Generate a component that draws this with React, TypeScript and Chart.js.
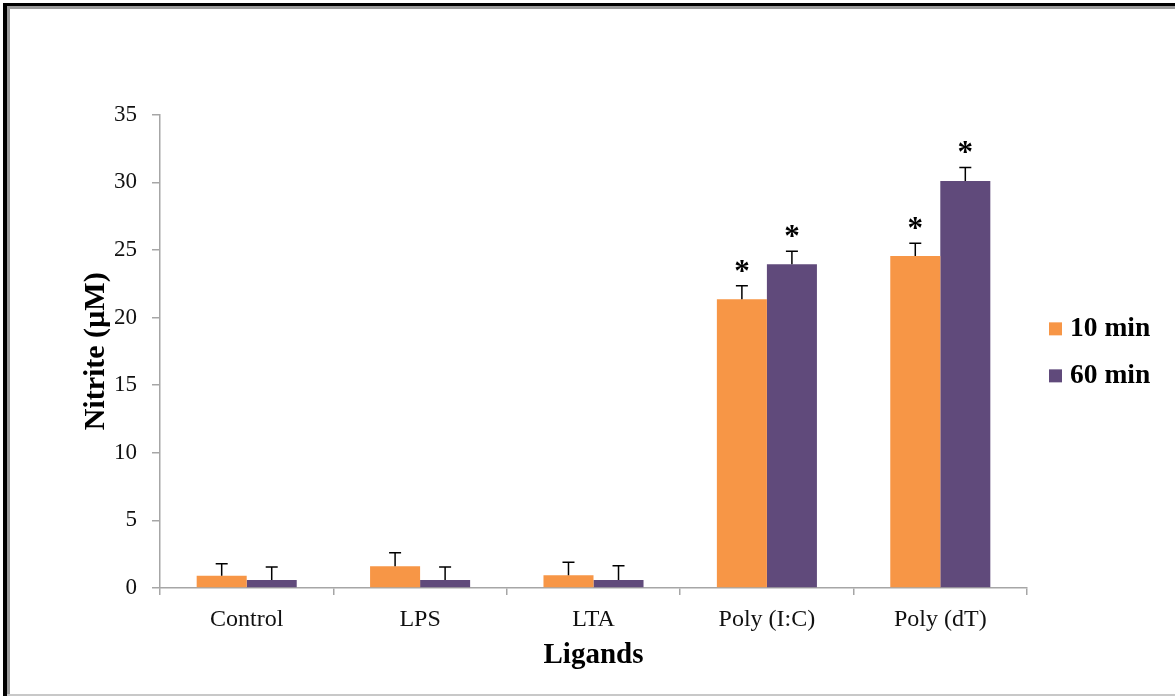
import { useEffect, useRef } from 'react';
import { Chart, registerables } from 'chart.js';

Chart.register(...registerables);

// Nitrite release per ligand, measured at two time points
const categories = ['Control', 'LPS', 'LTA', 'Poly (I:C)', 'Poly (dT)'];
const seriesLabels = ['10 min', '60 min'];
const nitrite10 = [0.9, 1.6, 0.95, 21.35, 24.55];
const nitrite60 = [0.6, 0.6, 0.6, 23.95, 30.1];
const error10 = [0.9, 1.0, 0.95, 1.0, 0.95];
const error60 = [0.95, 0.95, 1.05, 0.95, 1.0];
const significant10 = [false, false, false, true, true];
const significant60 = [false, false, false, true, true];
const yMin = 0;
const yMax = 35;
const yStep = 5;

const SERIF = "'Liberation Serif', 'Times New Roman', serif";
const ORANGE = '#F79646';
const PURPLE = '#604A7B';
const AXIS_GREY = '#a6a6a6';

// Upward error whiskers plus significance asterisks above them
const errorBarPlugin = {
  id: 'errorBars',
  afterDatasetsDraw(chart: any) {
    const { ctx } = chart;
    const yScale = chart.scales.y;
    chart.data.datasets.forEach((ds: any, di: number) => {
      const meta = chart.getDatasetMeta(di);
      meta.data.forEach((bar: any, i: number) => {
        const value = ds.data[i];
        const err = ds.errors[i];
        const x = bar.x;
        const yTop = yScale.getPixelForValue(value + err);
        ctx.save();
        ctx.strokeStyle = '#000';
        ctx.lineWidth = 1.5;
        ctx.beginPath();
        ctx.moveTo(x, bar.y);
        ctx.lineTo(x, yTop);
        ctx.moveTo(x - 6, yTop);
        ctx.lineTo(x + 6, yTop);
        ctx.stroke();
        if (ds.significant[i]) {
          ctx.fillStyle = '#000';
          ctx.font = `bold 31px ${SERIF}`;
          ctx.textAlign = 'center';
          ctx.textBaseline = 'alphabetic';
          ctx.fillText('*', x, yTop - 5);
        }
        ctx.restore();
      });
    });
  },
};

// Legend at the right of the plot area, centred vertically
const sideLegendPlugin = {
  id: 'sideLegend',
  afterDraw(chart: any) {
    const { ctx, chartArea } = chart;
    const midY = (chartArea.top + chartArea.bottom) / 2;
    const rowGap = 47;
    const n = chart.data.datasets.length;
    chart.data.datasets.forEach((ds: any, i: number) => {
      const cy = midY + (i - (n - 1) / 2) * rowGap + 1;
      const sx = chartArea.right + 22;
      ctx.save();
      ctx.fillStyle = ds.backgroundColor;
      ctx.fillRect(sx, cy - 6.5, 13, 13);
      ctx.fillStyle = '#000';
      ctx.font = `bold 27.5px ${SERIF}`;
      ctx.textAlign = 'left';
      ctx.textBaseline = 'middle';
      ctx.fillText(ds.label, sx + 21, cy);
      ctx.restore();
    });
  },
};

export default function App() {
  const canvasRef = useRef<HTMLCanvasElement | null>(null);

  useEffect(() => {
    const canvas = canvasRef.current;
    if (!canvas) return;
    const chart = new Chart(canvas, {
      type: 'bar',
      data: {
        labels: categories,
        datasets: [
          {
            label: seriesLabels[0],
            data: nitrite10,
            backgroundColor: ORANGE,
            errors: error10,
            significant: significant10,
          } as any,
          {
            label: seriesLabels[1],
            data: nitrite60,
            backgroundColor: PURPLE,
            errors: error60,
            significant: significant60,
          } as any,
        ],
      },
      options: {
        responsive: false,
        maintainAspectRatio: false,
        animation: false,
        events: [],
        layout: { padding: { left: 78, top: 114.7, right: 148, bottom: 22.6 } },
        plugins: {
          legend: { display: false },
          tooltip: { enabled: false },
        },
        datasets: {
          bar: { categoryPercentage: 0.577, barPercentage: 1.0 },
        },
        scales: {
          x: {
            grid: {
              offset: true,
              drawOnChartArea: false,
              drawTicks: true,
              tickLength: 7,
              color: AXIS_GREY,
              lineWidth: 1.5,
            },
            border: { color: AXIS_GREY, width: 1.5 },
            ticks: {
              color: '#111',
              padding: 10,
              font: { family: SERIF, size: 24 },
            },
            title: {
              display: true,
              text: 'Ligands',
              color: '#000',
              padding: 0,
              font: { family: SERIF, size: 29, weight: 'bold' },
            },
            afterFit: (scale: any) => {
              scale.height = 85.4;
            },
          },
          y: {
            min: yMin,
            max: yMax,
            grid: {
              drawOnChartArea: false,
              drawTicks: true,
              tickLength: 8,
              color: AXIS_GREY,
              lineWidth: 1.5,
            },
            border: { color: AXIS_GREY, width: 1.5 },
            ticks: {
              stepSize: yStep,
              color: '#111',
              padding: 15,
              font: { family: SERIF, size: 23 },
            },
            title: {
              display: true,
              text: 'Nitrite (µM)',
              color: '#000',
              padding: 0,
              font: { family: SERIF, size: 30, weight: 'bold' },
            },
            afterFit: (scale: any) => {
              scale.width = 82;
            },
          },
        },
      } as any,
      plugins: [errorBarPlugin, sideLegendPlugin],
    });
    return () => chart.destroy();
  }, []);

  return (
    <div
      style={{
        position: 'fixed',
        left: 0,
        top: 0,
        width: 1175,
        height: 696,
        background: '#fff',
        overflow: 'hidden',
      }}
    >
      <div style={{ position: 'absolute', left: 3, top: 3, width: 1172, height: 3, background: '#000' }} />
      <div style={{ position: 'absolute', left: 3, top: 3, width: 4, height: 693, background: '#000' }} />
      <div style={{ position: 'absolute', left: 7, top: 6, width: 1168, height: 3, background: '#9a9a9a' }} />
      <div style={{ position: 'absolute', left: 7, top: 6, width: 3, height: 690, background: '#9a9a9a' }} />
      <div style={{ position: 'absolute', left: 7, top: 694, width: 1168, height: 2, background: '#c8c8c8' }} />
      <canvas
        ref={canvasRef}
        width={1175}
        height={696}
        style={{ position: 'absolute', left: 0, top: 0, width: 1175, height: 696 }}
      />
    </div>
  );
}
